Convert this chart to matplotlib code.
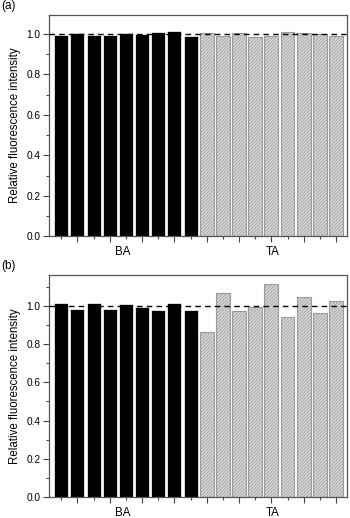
import matplotlib.pyplot as plt
import matplotlib.ticker as mticker
import numpy as np

plt.rcParams['font.family'] = ['Liberation Sans', 'DejaVu Sans']
plt.rcParams['hatch.linewidth'] = 0.6
plt.rcParams['hatch.color'] = '#8c8c8c'

groups = ['BA', 'TA']

# panel (a)
ba_a = [0.997, 1.007, 0.996, 0.993, 1.003, 1.002, 1.012, 1.013, 0.990]
ta_a = [1.005, 0.992, 1.007, 0.985, 0.990, 1.008, 1.007, 1.002, 0.988]

# panel (b)
ba_b = [1.017, 0.983, 1.014, 0.986, 1.012, 0.995, 0.976, 1.014, 0.976]
ta_b = [0.864, 1.066, 0.972, 0.995, 1.117, 0.943, 1.045, 0.962, 1.028]

panels = [('(a)', ba_a, ta_a, 1.094), ('(b)', ba_b, ta_b, 1.16)]
boxes = [[0.14, 0.544, 0.851, 0.427], [0.14, 0.0405, 0.851, 0.428]]

fig = plt.figure(figsize=(3.5, 5.18), dpi=100)

for (tag, ba, ta, ytop), box in zip(panels, boxes):
    ax = fig.add_axes(box)
    n = len(ba)
    xb = np.arange(n)
    xt = np.arange(n, 2 * n)
    ax.bar(xb, ba, width=0.86, color='black', edgecolor='white', linewidth=0.5)
    ax.bar(xt, ta, width=0.86, color='#dcdcdc', edgecolor='#9a9a9a',
           linewidth=0.8, hatch='//////////')
    ax.axhline(1.0, color='black', linestyle=(0, (4, 3)), linewidth=1.0, zorder=5)

    ax.set_xlim(-0.76, 2 * n - 1 + 0.67)
    ax.set_ylim(0, ytop)

    # ticks at bar positions, alternating lengths
    ax.set_xticks(np.arange(1, 2 * n, 2))
    ax.set_xticks(np.arange(0, 2 * n, 2), minor=True)
    ax.set_xticklabels([])
    ax.tick_params(axis='x', which='major', direction='out', length=4, width=0.8, color='#444444')
    ax.tick_params(axis='x', which='minor', direction='out', length=2.5, width=0.8, color='#444444')

    ax.yaxis.set_major_locator(mticker.MultipleLocator(0.2))
    ax.yaxis.set_minor_locator(mticker.MultipleLocator(0.1))
    ax.yaxis.set_major_formatter(mticker.FormatStrFormatter('%.1f'))
    ax.tick_params(axis='y', which='major', direction='out', length=4, width=0.8,
                   labelsize=7.3, color='#444444', pad=2)
    ax.tick_params(axis='y', which='minor', direction='out', length=2.5, width=0.8, color='#444444')

    for s in ax.spines.values():
        s.set_color('#555555')
        s.set_linewidth(0.9)

    ax.set_ylabel('Relative fluorescence intensity', fontsize=8.3, labelpad=4)

    for g, xc in zip(groups, [(n - 1) / 2 - 0.2, n + (n - 1) / 2 + 0.1]):
        ax.text(xc, -0.045, g, transform=ax.get_xaxis_transform(),
                ha='center', va='top', fontsize=8.3)

    fig.text(0.003, box[1] + box[3] + 0.006, tag, fontsize=8.5, ha='left', va='bottom')

fig.savefig('out.png', dpi=100)
